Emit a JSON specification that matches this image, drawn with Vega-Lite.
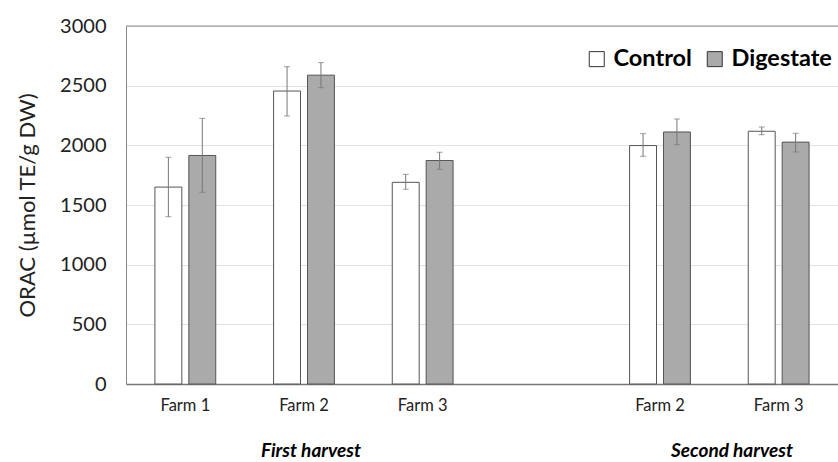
{
  "$schema": "https://vega.github.io/schema/vega-lite/v6.json",
  "width": 712,
  "height": 358,
  "autosize": {"type": "none"},
  "padding": {"left": 126, "top": 26, "right": 0, "bottom": 78},
  "background": "white",
  "config": {
    "view": {"stroke": null},
    "font": "Lato",
    "axis": {"labelFont": "Lato", "titleFont": "Lato"}
  },
  "datasets": {
    "bars": [
      {"pos": "F1", "treatment": "Control", "value": 1650, "lo": 1402, "hi": 1900},
      {"pos": "F1", "treatment": "Digestate", "value": 1915, "lo": 1606, "hi": 2226},
      {"pos": "F2", "treatment": "Control", "value": 2455, "lo": 2246, "hi": 2659},
      {"pos": "F2", "treatment": "Digestate", "value": 2588, "lo": 2483, "hi": 2693},
      {"pos": "F3", "treatment": "Control", "value": 1690, "lo": 1632, "hi": 1757},
      {"pos": "F3", "treatment": "Digestate", "value": 1873, "lo": 1799, "hi": 1942},
      {"pos": "S2", "treatment": "Control", "value": 1998, "lo": 1908, "hi": 2098},
      {"pos": "S2", "treatment": "Digestate", "value": 2112, "lo": 2005, "hi": 2221},
      {"pos": "S3", "treatment": "Control", "value": 2118, "lo": 2089, "hi": 2154},
      {"pos": "S3", "treatment": "Digestate", "value": 2027, "lo": 1944, "hi": 2101}
    ],
    "top": [{"edge": 3000}],
    "first": [{"pos": "F2", "label": "First harvest"}],
    "second": [{"pos": "S2", "label": "Second harvest"}]
  },
  "layer": [
    {
      "data": {"name": "top"},
      "mark": {"type": "rule", "color": "#888", "strokeWidth": 1},
      "encoding": {"y": {"field": "edge", "type": "quantitative"}}
    },
    {
      "data": {"name": "bars"},
      "mark": {"type": "bar", "stroke": "#555", "strokeWidth": 1},
      "encoding": {
        "x": {
          "field": "pos",
          "type": "nominal",
          "scale": {"domain": ["F1", "F2", "F3", "gap", "S2", "S3"], "paddingInner": 0, "paddingOuter": 0},
          "axis": {
            "title": null,
            "labelAngle": 0,
            "ticks": false,
            "labelExpr": "datum.value == 'F1' ? 'Farm 1' : (datum.value == 'F2' || datum.value == 'S2') ? 'Farm 2' : (datum.value == 'F3' || datum.value == 'S3') ? 'Farm 3' : ''",
            "labelFontSize": 16.5,
            "labelColor": "#222",
            "labelPadding": 13,
            "domainColor": "#777",
            "domainWidth": 1.5
          }
        },
        "xOffset": {"field": "treatment", "type": "nominal", "scale": {"domain": ["Control", "Digestate"], "paddingInner": 0.206, "paddingOuter": 0.853}},
        "y": {
          "field": "value",
          "type": "quantitative",
          "scale": {"domain": [0, 3000], "nice": false},
          "axis": {
            "title": "ORAC (µmol TE/g DW)",
            "format": "d",
            "titleFontSize": 22,
            "titleFontWeight": "normal",
            "titleColor": "#222",
            "titlePadding": 20,
            "values": [0, 500, 1000, 1500, 2000, 2500, 3000],
            "ticks": false,
            "labelFontSize": 20,
            "labelColor": "#222",
            "labelPadding": 20,
            "grid": true,
            "gridColor": "#e2e2e2",
            "domainColor": "#888"
          }
        },
        "color": {
          "field": "treatment",
          "type": "nominal",
          "scale": {"domain": ["Control", "Digestate"], "range": ["#ffffff", "#aaaaaa"]},
          "legend": {
            "title": null,
            "orient": "none",
            "direction": "horizontal",
            "legendX": 459,
            "legendY": 21,
            "symbolType": "square",
            "symbolSize": 225,
            "symbolStrokeColor": "#333",
            "symbolStrokeWidth": 1,
            "labelFontSize": 23.5,
            "labelFontWeight": "bold",
            "labelColor": "#000",
            "labelOffset": 5,
            "columnPadding": 11
          }
        }
      }
    },
    {
      "data": {"name": "bars"},
      "mark": {"type": "rule", "color": "#777", "strokeWidth": 1},
      "encoding": {
        "x": {"field": "pos", "type": "nominal"},
        "xOffset": {"field": "treatment", "type": "nominal"},
        "y": {"field": "lo", "type": "quantitative"},
        "y2": {"field": "hi"}
      }
    },
    {
      "data": {"name": "bars"},
      "mark": {"type": "tick", "color": "#777", "size": 6, "thickness": 1},
      "encoding": {
        "x": {"field": "pos", "type": "nominal"},
        "xOffset": {"field": "treatment", "type": "nominal"},
        "y": {"field": "hi", "type": "quantitative"}
      }
    },
    {
      "data": {"name": "bars"},
      "mark": {"type": "tick", "color": "#777", "size": 6, "thickness": 1},
      "encoding": {
        "x": {"field": "pos", "type": "nominal"},
        "xOffset": {"field": "treatment", "type": "nominal"},
        "y": {"field": "lo", "type": "quantitative"}
      }
    },
    {
      "data": {"name": "first"},
      "mark": {"type": "text", "fontSize": 19, "fontWeight": "bold", "fontStyle": "italic", "color": "#000", "baseline": "middle", "dy": 67, "dx": 7},
      "encoding": {
        "x": {"field": "pos", "type": "nominal"},
        "y": {"datum": 0, "type": "quantitative"},
        "text": {"field": "label"}
      }
    },
    {
      "data": {"name": "second"},
      "mark": {"type": "text", "fontSize": 19, "fontWeight": "bold", "fontStyle": "italic", "color": "#000", "baseline": "middle", "dy": 67, "dx": 72},
      "encoding": {
        "x": {"field": "pos", "type": "nominal"},
        "y": {"datum": 0, "type": "quantitative"},
        "text": {"field": "label"}
      }
    }
  ]
}
